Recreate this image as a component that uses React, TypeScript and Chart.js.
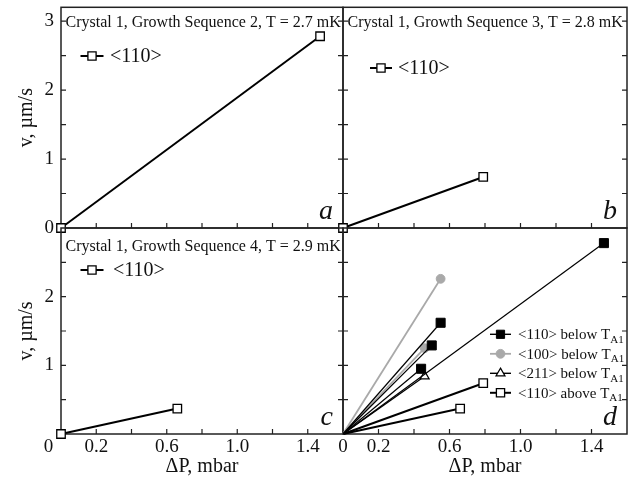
import { useEffect, useRef } from 'react';
import { Chart, registerables } from 'chart.js';

Chart.register(...registerables);

// ---- data -------------------------------------------------------------
// Growth sequences 2, 3 and 4 (ΔP in mbar, v in µm/s)
const pressureSeq2 = [0, 1.47];
const velocitySeq2 = [0, 2.78];
const pressureSeq3 = [0, 0.79];
const velocitySeq3 = [0, 0.74];
const pressureSeq4 = [0, 0.66];
const velocitySeq4 = [0, 0.37];

// Summary: every run is drawn as a straight line from the origin to its end point
const below110Pressure = [1.47, 0.55, 0.5, 0.44];
const below110Velocity = [2.78, 1.62, 1.29, 0.95];
const below100Pressure = [0.55, 0.46];
const below100Velocity = [2.26, 1.25];
const below211Pressure = [0.46];
const below211Velocity = [0.84];
const above110Pressure = [0.79, 0.66];
const above110Velocity = [0.74, 0.37];

const panelTitles = [
  'Crystal 1, Growth Sequence 2, T = 2.7 mK',
  'Crystal 1, Growth Sequence 3, T = 2.8 mK',
  'Crystal 1, Growth Sequence 4, T = 2.9 mK',
];
const panelLetters = ['a', 'b', 'c', 'd'];
const directionLabel = '<110>';
const summaryLabels = ['<110> below T', '<100> below T', '<211> below T', '<110> above T'];
const summarySubscript = 'A1';
const xTickLabels = ['0.2', '0.6', '1.0', '1.4'];
const yTickLabels = ['0', '1', '2', '3'];
const xTitle = 'ΔP, mbar';
const yTitle = 'v, µm/s';

// ---- styling ------------------------------------------------------------
const W = 635;
const H = 490;
const SERIF = "'Liberation Serif', 'Times New Roman', serif";
const INK = '#111';
const GREY = '#a9a9a9';

type Marker = {
  shape: 'rect' | 'circle' | 'triangle';
  radius: number;
  fill: string;
  stroke: string;
  markerWidth: number;
  line: string;
  lineWidth: number;
};

const openSquare: Marker = { shape: 'rect', radius: 6, fill: '#fff', stroke: '#000', markerWidth: 1.3, line: '#000', lineWidth: 2 };
const filledSquare: Marker = { shape: 'rect', radius: 6.4, fill: '#000', stroke: '#000', markerWidth: 1, line: '#000', lineWidth: 1.2 };
const greyCircle: Marker = { shape: 'circle', radius: 4.4, fill: GREY, stroke: GREY, markerWidth: 1, line: GREY, lineWidth: 1.8 };
const openTriangle: Marker = { shape: 'triangle', radius: 5.2, fill: '#fff', stroke: '#000', markerWidth: 1.2, line: '#000', lineWidth: 1.3 };

type LegendItem = { marker: Marker; text: string; sub?: string };

type Panel = {
  rect: [number, number, number, number]; // left, top, right, bottom of the plot frame
  yMax: number;
  showXLabels: boolean;
  showYLabels: boolean;
  xZeroLabel: 'axis' | 'corner' | 'none';
  title?: string;
  titleBaseline: number;
  letter: string;
  legend: LegendItem[];
  legendX: number; // marker centre
  legendTextX: number;
  legendY: number;
  legendGap: number;
  legendFont: number;
  legendLine: number;
  datasets: any[];
};

function pair(xs: number[], ys: number[], m: Marker) {
  return {
    data: xs.map((x, i) => ({ x, y: ys[i] })),
    borderColor: m.line,
    borderWidth: m.lineWidth,
    pointStyle: m.shape,
    pointRadius: m.radius,
    pointBackgroundColor: m.fill,
    pointBorderColor: m.stroke,
    pointBorderWidth: m.markerWidth,
    clip: false,
  };
}

function rays(xs: number[], ys: number[], m: Marker) {
  return xs.map((x, i) => ({
    data: [
      { x: 0, y: 0 },
      { x, y: ys[i] },
    ],
    borderColor: m.line,
    borderWidth: m.lineWidth,
    pointStyle: m.shape,
    pointRadius: [0, m.radius],
    pointBackgroundColor: m.fill,
    pointBorderColor: m.stroke,
    pointBorderWidth: m.markerWidth,
    clip: false,
  }));
}

const panels: Panel[] = [
  {
    rect: [61, 6, 343, 228],
    yMax: 3.2,
    showXLabels: false,
    showYLabels: true,
    xZeroLabel: 'none',
    title: panelTitles[0],
    titleBaseline: 20,
    letter: panelLetters[0],
    legend: [{ marker: openSquare, text: directionLabel }],
    legendX: 92,
    legendTextX: 110,
    legendY: 56,
    legendGap: 0,
    legendFont: 20,
    legendLine: 23,
    datasets: [pair(pressureSeq2, velocitySeq2, openSquare)],
  },
  {
    rect: [343, 6, 627, 228],
    yMax: 3.2,
    showXLabels: false,
    showYLabels: false,
    xZeroLabel: 'none',
    title: panelTitles[1],
    titleBaseline: 20,
    letter: panelLetters[1],
    legend: [{ marker: openSquare, text: directionLabel }],
    legendX: 381,
    legendTextX: 398,
    legendY: 68,
    legendGap: 0,
    legendFont: 20,
    legendLine: 22,
    datasets: [pair(pressureSeq3, velocitySeq3, openSquare)],
  },
  {
    rect: [61, 228, 343, 434],
    yMax: 3.0,
    showXLabels: true,
    showYLabels: true,
    xZeroLabel: 'corner',
    title: panelTitles[2],
    titleBaseline: 23,
    letter: panelLetters[2],
    legend: [{ marker: openSquare, text: directionLabel }],
    legendX: 92,
    legendTextX: 113,
    legendY: 270,
    legendGap: 0,
    legendFont: 20,
    legendLine: 23,
    datasets: [pair(pressureSeq4, velocitySeq4, openSquare)],
  },
  {
    rect: [343, 228, 627, 434],
    yMax: 3.0,
    showXLabels: true,
    showYLabels: false,
    xZeroLabel: 'axis',
    titleBaseline: 0,
    letter: panelLetters[3],
    legend: [
      { marker: filledSquare, text: summaryLabels[0], sub: summarySubscript },
      { marker: greyCircle, text: summaryLabels[1], sub: summarySubscript },
      { marker: openTriangle, text: summaryLabels[2], sub: summarySubscript },
      { marker: openSquare, text: summaryLabels[3], sub: summarySubscript },
    ],
    legendX: 500.5,
    legendTextX: 518,
    legendY: 334.3,
    legendGap: 19.5,
    legendFont: 15,
    legendLine: 21,
    datasets: [
      ...rays(below110Pressure, below110Velocity, filledSquare),
      ...rays(below100Pressure, below100Velocity, greyCircle),
      ...rays(below211Pressure, below211Velocity, openTriangle),
      ...rays(above110Pressure, above110Velocity, openSquare),
    ],
  },
];

function drawMarker(ctx: CanvasRenderingContext2D, m: Marker, x: number, y: number) {
  ctx.save();
  ctx.beginPath();
  if (m.shape === 'rect') {
    const s = m.radius * Math.SQRT1_2;
    ctx.rect(x - s, y - s, 2 * s, 2 * s);
  } else if (m.shape === 'circle') {
    ctx.arc(x, y, m.radius, 0, Math.PI * 2);
  } else {
    const r = m.radius;
    ctx.moveTo(x, y - r);
    ctx.lineTo(x + r * 0.866, y + r * 0.5);
    ctx.lineTo(x - r * 0.866, y + r * 0.5);
    ctx.closePath();
  }
  ctx.fillStyle = m.fill;
  ctx.fill();
  ctx.lineWidth = m.markerWidth;
  ctx.strokeStyle = m.stroke;
  ctx.stroke();
  ctx.restore();
}

const TICK = 5;

function framePlugin(p: Panel) {
  return {
    id: 'panelFrame',
    beforeDatasetsDraw(chart: any) {
      const { ctx, chartArea: a, scales } = chart;
      const xs = scales.x;
      const ys = scales.y;
      ctx.save();
      ctx.strokeStyle = '#222';
      ctx.lineWidth = 1.2;
      ctx.beginPath();
      for (const t of xs.ticks) {
        if (t.value <= xs.min + 1e-9 || t.value >= xs.max - 1e-9) continue;
        const px = xs.getPixelForValue(t.value);
        ctx.moveTo(px, a.bottom);
        ctx.lineTo(px, a.bottom - TICK);
      }
      for (const t of ys.ticks) {
        if (t.value <= ys.min + 1e-9 || t.value >= ys.max - 1e-9) continue;
        const py = ys.getPixelForValue(t.value);
        ctx.moveTo(a.left, py);
        ctx.lineTo(a.left + TICK, py);
        ctx.moveTo(a.right, py);
        ctx.lineTo(a.right - TICK, py);
      }
      ctx.stroke();
      ctx.lineWidth = 1.5;
      ctx.strokeRect(a.left, a.top, a.right - a.left, a.bottom - a.top);
      ctx.restore();
    },
    afterDraw(chart: any) {
      const { ctx, chartArea: a, scales } = chart;
      ctx.save();
      ctx.fillStyle = INK;
      // heading
      if (p.title) {
        ctx.font = `16px ${SERIF}`;
        ctx.textAlign = 'left';
        ctx.textBaseline = 'alphabetic';
        ctx.fillText(p.title, a.left + 4.5, a.top + p.titleBaseline);
      }
      // legend
      p.legend.forEach((item, i) => {
        const y = p.legendY + i * p.legendGap;
        const m = item.marker;
        ctx.save();
        ctx.strokeStyle = m.line;
        ctx.lineWidth = Math.max(1.4, m.lineWidth);
        ctx.beginPath();
        ctx.moveTo(p.legendX - p.legendLine / 2, y);
        ctx.lineTo(p.legendX + p.legendLine / 2, y);
        ctx.stroke();
        ctx.restore();
        drawMarker(ctx, { ...m, radius: m.shape === 'rect' ? 5.8 : m.radius }, p.legendX, y);
        ctx.fillStyle = INK;
        ctx.font = `${p.legendFont}px ${SERIF}`;
        ctx.textAlign = 'left';
        ctx.textBaseline = 'middle';
        ctx.fillText(item.text, p.legendTextX, y + 1);
        if (item.sub) {
          const w = ctx.measureText(item.text).width;
          ctx.font = `${Math.round(p.legendFont * 0.72)}px ${SERIF}`;
          ctx.fillText(item.sub, p.legendTextX + w, y + 5.5);
        }
      });
      // panel letter
      ctx.font = `italic 28px ${SERIF}`;
      ctx.textAlign = 'right';
      ctx.textBaseline = 'alphabetic';
      ctx.fillText(p.letter, a.right - 10, a.bottom - 9.5);
      // shared zero in the lower-left corner
      if (p.xZeroLabel === 'corner') {
        ctx.font = `19px ${SERIF}`;
        ctx.textAlign = 'center';
        ctx.textBaseline = 'middle';
        ctx.fillText('0', scales.x.getPixelForValue(0) - 12.5, a.bottom + 13.4);
      }
      ctx.restore();
    },
  };
}

function zeroPadding(s: any) {
  s.paddingLeft = 0;
  s.paddingRight = 0;
  s.paddingTop = 0;
  s.paddingBottom = 0;
}

function buildConfig(p: Panel): any {
  const [l, t, r, b] = p.rect;
  const yWidth = p.showYLabels ? l : 0;
  const xHeight = p.showXLabels ? H - b : 0;
  return {
    type: 'line',
    data: { datasets: p.datasets },
    options: {
      responsive: false,
      animation: false,
      devicePixelRatio: 1,
      events: [],
      layout: {
        padding: { left: l - yWidth, top: t, right: W - r, bottom: H - b - xHeight },
      },
      plugins: { legend: { display: false }, tooltip: { enabled: false } },
      scales: {
        x: {
          type: 'linear',
          min: 0,
          max: 1.6,
          grid: { display: false, drawTicks: false },
          border: { display: false },
          ticks: {
            display: p.showXLabels,
            stepSize: 0.2,
            autoSkip: false,
            maxRotation: 0,
            includeBounds: false,
            padding: 2,
            color: INK,
            font: { family: SERIF, size: 19 },
            callback: (v: number) => {
              const s = Number(v).toFixed(1);
              if (Math.abs(v) < 1e-9) return p.xZeroLabel === 'axis' ? '0' : '';
              return xTickLabels.includes(s) ? s : '';
            },
          },
          title: {
            display: p.showXLabels,
            text: xTitle,
            color: INK,
            font: { family: SERIF, size: 20 },
            padding: { top: 0, bottom: 11 },
          },
          afterFit: (s: any) => {
            s.height = xHeight;
            zeroPadding(s);
          },
        },
        y: {
          type: 'linear',
          min: 0,
          max: p.yMax,
          grid: { display: false, drawTicks: false },
          border: { display: false },
          ticks: {
            display: p.showYLabels,
            stepSize: 0.5,
            autoSkip: false,
            includeBounds: false,
            padding: 7,
            color: INK,
            font: { family: SERIF, size: 19 },
            callback: (v: number) => {
              const s = String(Math.round(v * 10) / 10);
              if (p.xZeroLabel === 'corner' && s === '0') return '';
              return yTickLabels.includes(s) && p.yMax - v > 0.05 ? s : yTickLabels.includes(s) && p.yMax > 3.05 ? s : '';
            },
          },
          title: {
            display: p.showYLabels,
            text: yTitle,
            color: INK,
            font: { family: SERIF, size: 20 },
            padding: { top: 15, bottom: 0 },
          },
          afterFit: (s: any) => {
            s.width = yWidth;
            zeroPadding(s);
          },
        },
      },
    },
    plugins: [framePlugin(p)],
  };
}

function PanelChart({ panel }: { panel: Panel }) {
  const ref = useRef<HTMLCanvasElement>(null);
  useEffect(() => {
    if (!ref.current) return;
    const chart = new Chart(ref.current, buildConfig(panel));
    return () => chart.destroy();
  }, [panel]);
  return (
    <canvas
      ref={ref}
      width={W}
      height={H}
      style={{ position: 'absolute', left: 0, top: 0, width: W, height: H }}
    />
  );
}

export default function App() {
  return (
    <div style={{ position: 'fixed', left: 0, top: 0, width: W, height: H, background: '#fff' }}>
      {panels.map((p, i) => (
        <PanelChart key={i} panel={p} />
      ))}
    </div>
  );
}
